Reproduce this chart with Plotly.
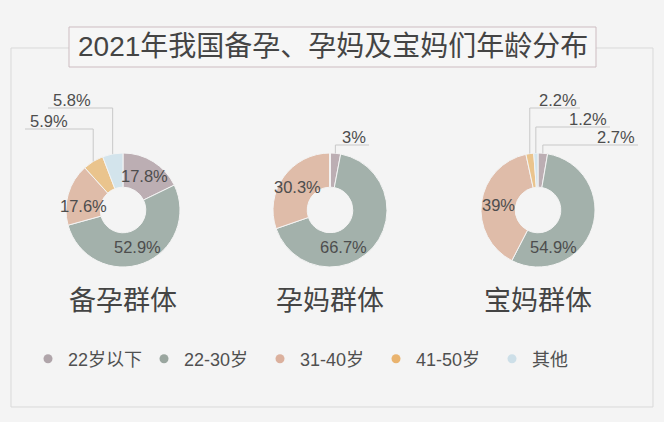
import numpy as np
import plotly.graph_objects as go

# data
AGE_GROUPS = ['22岁以下', '22-30岁', '31-40岁', '41-50岁', '其他']
GROUP_NAMES = ['备孕群体', '孕妈群体', '宝妈群体']
BEIYUN = [17.8, 52.9, 17.6, 5.9, 5.8]
YUNMA = [3, 66.7, 30.3, 0, 0]
BAOMA = [2.7, 54.9, 39, 2.2, 1.2]
TITLE = '2021年我国备孕、孕妈及宝妈们年龄分布'

W, H = 664, 422
SLICE_COLORS = ['#bcaeb3', '#a3b1ab', '#dfbca9', '#eac48d', '#d3e4ec']
DOT_COLORS = ['#b0a5aa', '#9aa69f', '#dbb09d', '#e9b36e', '#cddfe8']
FONT = 'Liberation Sans, Arial, Noto Sans CJK SC'
TEXT_COLOR = '#4d4d4d'
CENTERS = [123, 330, 538]   # donut centres in px
CY, R, HOLE = 210, 57, 0.4
# where the leader lines of the small slices go: slice index -> (level y, end x)
LEADERS = [
    {3: (129, 25), 4: (108, 48)},
    {0: (145, 369)},
    {0: (145, 638), 3: (108, 580), 4: (127, 610)},
]
# inside labels the original did not put on the slice middle (degrees)
LABEL_ANGLE = {(0, 2): 276, (1, 1): 160, (2, 1): 157}


def px(x):
    return x / W


def py(y):
    return 1 - y / H


def label(x, y, text, size, color=TEXT_COLOR, anchor='center'):
    return dict(x=px(x), y=py(y), xref='paper', yref='paper', text=text,
                showarrow=False, xanchor=anchor, yanchor='middle',
                font=dict(family=FONT, size=size, color=color))


def main():
    fig = go.Figure()
    annotations = []
    shapes = []

    addFrame(shapes, annotations)

    for n, values in enumerate([BEIYUN, YUNMA, BAOMA]):
        cx = CENTERS[n]
        fig.add_trace(go.Pie(
            values=values, labels=AGE_GROUPS, sort=False,
            direction='clockwise', rotation=0, hole=HOLE,
            marker=dict(colors=SLICE_COLORS,
                        line=dict(color='#f4f4f4', width=1)),
            textinfo='none', showlegend=False,
            domain=dict(x=[px(cx - R), px(cx + R)],
                        y=[py(CY + R), py(CY - R)]),
        ))
        addSliceLabels(n, values, cx, shapes, annotations)
        annotations.append(label(cx, 301, GROUP_NAMES[n], 27, '#444444'))

    # legend with round dots
    for name, color in zip(AGE_GROUPS, DOT_COLORS):
        fig.add_trace(go.Scatter(
            x=[None], y=[None], mode='markers', name=name,
            marker=dict(size=9, color=color)))

    fig.update_layout(
        width=W, height=H,
        margin=dict(l=0, r=0, t=0, b=0),
        paper_bgcolor='#f4f4f4', plot_bgcolor='#f4f4f4',
        xaxis=dict(visible=False), yaxis=dict(visible=False),
        legend=dict(orientation='h', x=px(28), y=py(359),
                    xanchor='left', yanchor='middle',
                    entrywidth=71, bgcolor='rgba(0,0,0,0)',
                    font=dict(family=FONT, size=18, color='#505050')),
        shapes=shapes, annotations=annotations,
    )
    fig.write_html('out.html', config={'displayModeBar': False},
                   post_script="document.body.style.margin='0';")


def addFrame(shapes, annotations):
    # outer frame, broken at the top by the title box
    line = dict(color='#d9d9d9', width=1)
    frame = f'M {px(69)},{py(48)} L {px(11)},{py(48)} L {px(11)},{py(407)} ' \
            f'L {px(653)},{py(407)} L {px(653)},{py(48)} L {px(596)},{py(48)}'
    shapes.append(dict(type='path', path=frame, xref='paper', yref='paper',
                       line=line))
    shapes.append(dict(type='rect', xref='paper', yref='paper',
                       x0=px(69), x1=px(596), y0=py(67), y1=py(27),
                       line=dict(color='#cdbcc1', width=1),
                       fillcolor='#f6f6f6'))
    annotations.append(label(333, 47, TITLE, 28, '#444444'))


def addSliceLabels(n, values, cx, shapes, annotations):
    leaders = LEADERS[n]
    total = sum(values)
    start = 0
    for i, v in enumerate(values):
        if v == 0:
            continue
        mid = (start + v / 2) / total * 2 * np.pi
        start += v
        text = f'{v:g}%'
        if i not in leaders:
            ang = np.radians(LABEL_ANGLE[(n, i)]) if (n, i) in LABEL_ANGLE \
                else mid
            r = R * (1 + HOLE) / 2
            x, y = cx + r * np.sin(ang), CY - r * np.cos(ang)
            annotations.append(label(x, y, text, 16.5))
            continue
        level, end = leaders[i]
        x0, y0 = cx + R * np.sin(mid), CY - R * np.cos(mid)
        path = f'M {px(x0)},{py(y0)} L {px(x0)},{py(level)} ' \
               f'L {px(end)},{py(level)}'
        shapes.append(dict(type='path', path=path, xref='paper',
                           yref='paper',
                           line=dict(color='#c8c8c8', width=1)))
        if end < x0:
            annotations.append(label(end + 3, level - 8, text, 16.5,
                                     anchor='left'))
        else:
            annotations.append(label(end - 1, level - 8, text, 16.5,
                                     anchor='right'))


if __name__ == '__main__':
    main()
